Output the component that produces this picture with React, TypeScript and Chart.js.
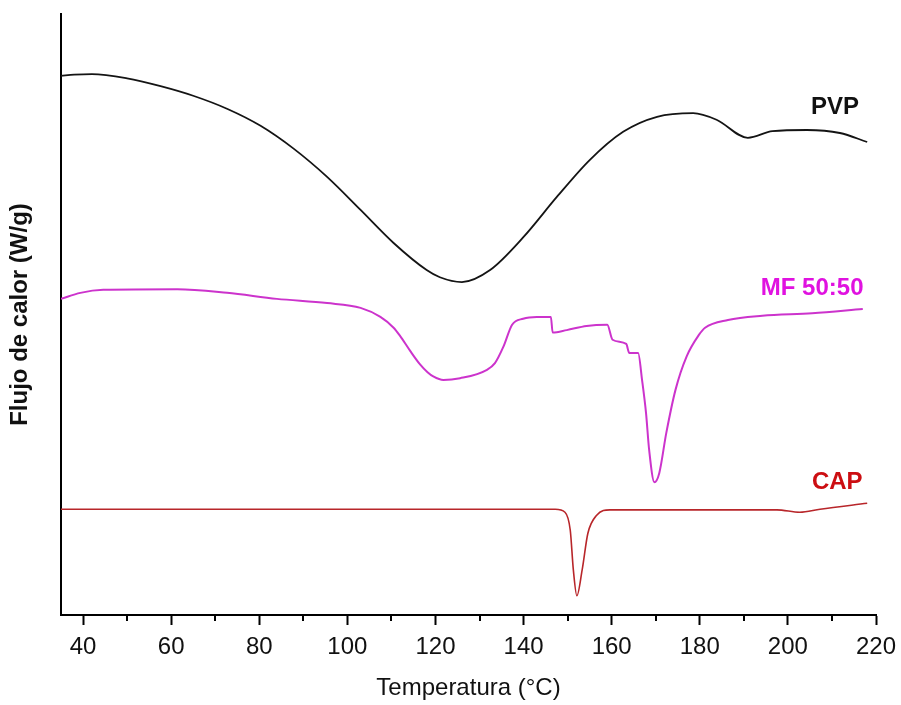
import React, { useEffect, useRef } from "react";
import { Chart, registerables } from "chart.js";

Chart.register(...registerables);

// DSC curves: temperature (°C) vs heat flow (arbitrary offset units)
const pvpTemp = [35, 38, 42, 50, 57.6, 65, 72.8, 80.3, 87.8, 95.4, 103, 110.5, 118, 121, 126, 132.4, 140, 147.6, 155, 162.6, 170.3, 178.5, 183.8, 190.9, 196.5, 204.3, 211.8, 218];
const pvpFlow = [89.7, 89.9, 90.0, 89.3, 88.0, 86.4, 84.2, 81.4, 77.6, 72.9, 67.4, 61.9, 57.4, 56.2, 55.4, 57.4, 62.9, 69.6, 75.7, 80.4, 82.9, 83.5, 82.4, 79.4, 80.5, 80.7, 80.2, 78.7];

const mfTemp = [35, 39.4, 44.6, 61.4, 72.7, 84, 95.4, 103, 107.5, 110.5, 112, 114.3, 116.5, 118.2, 119.5, 121.8, 125.6, 131.7, 133.5, 135.4, 137.4, 139.9, 143, 146.2, 146.6, 149.8, 154.3, 159, 160.2, 163.3, 164, 166, 166.9, 167.8, 168.5, 169.7, 170.8, 172.4, 174.5, 177, 179.8, 181.2, 186.4, 194.2, 205.5, 217];
const mfFlow = [52.6, 53.6, 54.1, 54.2, 53.6, 52.6, 51.9, 51.1, 49.6, 47.8, 46.4, 43.9, 41.7, 40.4, 39.7, 39.1, 39.4, 40.8, 41.9, 44.6, 48.3, 49.3, 49.6, 49.6, 47.0, 47.4, 48.1, 48.3, 45.8, 45.1, 43.6, 43.6, 39.1, 33.6, 27.5, 22.1, 23.6, 30.3, 37.5, 43.0, 46.6, 47.8, 49.1, 49.8, 50.2, 50.9];

const capTemp = [35, 147.2, 149.4, 150.6, 151.3, 152.1, 153.3, 154.6, 156.6, 159.6, 197.5, 202.7, 207.3, 218];
const capFlow = [17.6, 17.6, 17.1, 14.1, 7.5, 3.2, 7.5, 13.6, 16.6, 17.5, 17.5, 17.1, 17.6, 18.6];

const xMajorTicks = [40, 60, 80, 100, 120, 140, 160, 180, 200, 220];
const xMinorTicks = [50, 70, 90, 110, 130, 150, 170, 190, 210];

// Curve names with the (temperature, heat flow) spot where each is written
const seriesNames = ["PVP", "MF 50:50", "CAP"];
const nameTemp = [210.7, 205.5, 211.2];
const nameFlow = [84.4, 54.4, 22.0];
const nameColors = ["#111111", "#e012e0", "#cc0e12"];
const lineColors = ["#141414", "#cc33cc", "#b8262a"];

const FONT = '"Liberation Sans", Arial, sans-serif';

const toPoints = (xs: number[], ys: number[]) => xs.map((x, i) => ({ x, y: ys[i] }));

const minorTickPlugin = {
  id: "minorTicks",
  afterDraw(chart: any) {
    const { ctx, scales, chartArea } = chart;
    const xs = scales.x;
    ctx.save();
    ctx.strokeStyle = "#000";
    ctx.lineWidth = 2;
    xMinorTicks.forEach((v) => {
      const px = Math.round(xs.getPixelForValue(v));
      ctx.beginPath();
      ctx.moveTo(px, chartArea.bottom);
      ctx.lineTo(px, chartArea.bottom + 6);
      ctx.stroke();
    });
    ctx.restore();
  },
};

const seriesNamePlugin = {
  id: "seriesNames",
  afterDatasetsDraw(chart: any) {
    const { ctx, scales } = chart;
    ctx.save();
    ctx.font = `bold 24px ${FONT}`;
    ctx.textAlign = "center";
    ctx.textBaseline = "middle";
    seriesNames.forEach((name, i) => {
      ctx.fillStyle = nameColors[i];
      ctx.fillText(name, scales.x.getPixelForValue(nameTemp[i]), scales.y.getPixelForValue(nameFlow[i]));
    });
    ctx.restore();
  },
};

export default function App() {
  const canvasRef = useRef<HTMLCanvasElement | null>(null);

  useEffect(() => {
    if (!canvasRef.current) return;
    const mk = (label: string, xs: number[], ys: number[], color: string, w: number) => ({
      label,
      data: toPoints(xs, ys),
      borderColor: color,
      backgroundColor: color,
      borderWidth: w,
      pointRadius: 0,
      fill: false,
      cubicInterpolationMode: "monotone" as const,
    });
    const chart = new Chart(canvasRef.current, {
      type: "line",
      data: {
        datasets: [
          mk("PVP", pvpTemp, pvpFlow, lineColors[0], 1.8),
          mk("MF 50:50", mfTemp, mfFlow, lineColors[1], 2),
          mk("CAP", capTemp, capFlow, lineColors[2], 1.6),
        ],
      },
      options: {
        responsive: false,
        animation: false,
        devicePixelRatio: 1,
        layout: { padding: { top: 14, right: 25, left: 0, bottom: 0 } },
        plugins: { legend: { display: false }, tooltip: { enabled: false } },
        scales: {
          x: {
            type: "linear",
            min: 35,
            max: 220,
            afterFit: (s: any) => {
              s.height = 90;
              s.paddingLeft = 0;
              s.paddingRight = 0;
            },
            afterBuildTicks: (s: any) => {
              s.ticks = xMajorTicks.map((v) => ({ value: v }));
            },
            grid: {
              display: true,
              drawOnChartArea: false,
              drawTicks: true,
              tickLength: 10,
              tickWidth: 2,
              tickColor: "#000",
              color: "#000",
            },
            border: { display: true, color: "#000", width: 2 },
            ticks: {
              color: "#111",
              padding: 8,
              maxRotation: 0,
              autoSkip: false,
              font: { family: FONT, size: 24 },
            },
            title: {
              display: true,
              text: "Temperatura (°C)",
              color: "#111",
              padding: { top: 0, bottom: 2 },
              font: { family: FONT, size: 24 },
            },
          },
          y: {
            type: "linear",
            min: 0,
            max: 100,
            afterFit: (s: any) => {
              s.width = 61;
            },
            grid: { display: false },
            border: { display: true, color: "#000", width: 2 },
            ticks: { display: false },
            title: {
              display: true,
              text: "Flujo de calor (W/g)",
              color: "#111",
              padding: { top: 6, bottom: 0 },
              font: { family: FONT, size: 24, weight: "bold" },
            },
          },
        },
      },
      plugins: [minorTickPlugin, seriesNamePlugin],
    });
    return () => chart.destroy();
  }, []);

  return (
    <div style={{ position: "absolute", left: 0, top: 0, width: 901, height: 705, background: "#fff" }}>
      <canvas ref={canvasRef} width={901} height={705} />
    </div>
  );
}
